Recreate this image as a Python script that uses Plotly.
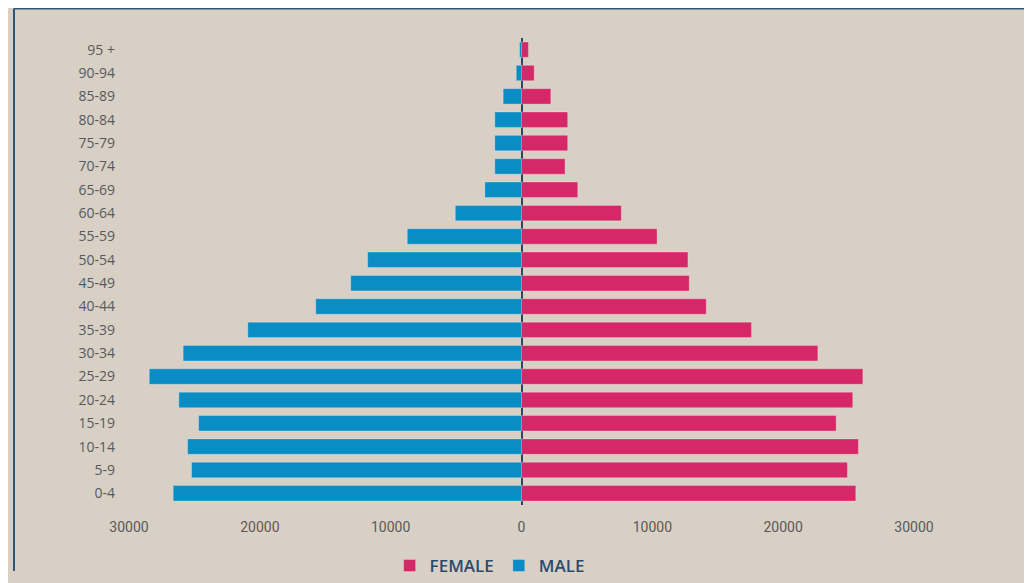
# population pyramid by age group, male on the left, female on the right

import plotly.graph_objects as go

age_groups = ["0-4", "5-9", "10-14", "15-19", "20-24", "25-29", "30-34", "35-39",
              "40-44", "45-49", "50-54", "55-59", "60-64", "65-69", "70-74",
              "75-79", "80-84", "85-89", "90-94", "95 +"]

male = [26620, 25220, 25520, 24680, 26190, 28450, 25860, 20920, 15730, 13050,
        11760, 8730, 5060, 2800, 2040, 2040, 2040, 1400, 400, 150]
female = [25550, 24910, 25750, 24050, 25320, 26090, 22650, 17580, 14120, 12820,
          12720, 10360, 7630, 4300, 3330, 3530, 3530, 2240, 970, 530]

tick_vals = [-30000, -20000, -10000, 0, 10000, 20000, 30000]
tick_text = ["30000", "20000", "10000", "0", "10000", "20000", "30000"]

bg = "#d8d0c5"
frame = "#2f5677"

fig = go.Figure()

fig.add_trace(go.Bar(
    y=age_groups,
    x=female,
    orientation="h",
    name="FEMALE",
    marker=dict(color="#d62868", line=dict(color="rgba(255,255,255,0.25)", width=1)),
))
fig.add_trace(go.Bar(
    y=age_groups,
    x=[-v for v in male],
    orientation="h",
    name="MALE",
    marker=dict(color="#0a8dc5", line=dict(color="rgba(255,255,255,0.25)", width=1)),
))

# frame lines at top and left of the card
fig.add_shape(type="line", xref="paper", yref="paper",
              x0=-0.1465, x1=1.16, y0=1.063, y1=1.063,
              line=dict(color=frame, width=2))
fig.add_shape(type="line", xref="paper", yref="paper",
              x0=-0.1465, x1=-0.1465, y0=1.063, y1=-0.1413,
              line=dict(color=frame, width=2))

fig.update_layout(
    width=1024,
    height=575,
    paper_bgcolor=bg,
    plot_bgcolor=bg,
    barmode="relative",
    bargap=0.34,
    margin=dict(l=121, r=118, t=30, b=78, autoexpand=False),
    font=dict(family="Open Sans, DejaVu Sans, sans-serif", color="#595959", size=14),
    showlegend=True,
    legend=dict(
        orientation="h",
        x=0.332, xanchor="left",
        y=-0.1306, yanchor="middle",
        font=dict(size=17, color="#2b4b6c", weight=600,
                  family="Open Sans, DejaVu Sans, sans-serif"),
        itemwidth=30,
        bgcolor="rgba(0,0,0,0)",
    ),
    xaxis=dict(
        range=[-30000, 30000],
        tickvals=tick_vals,
        ticktext=tick_text,
        showgrid=False,
        zeroline=True,
        zerolinecolor="#2e4760",
        zerolinewidth=2,
        ticklabelstandoff=12,
        tickfont=dict(size=14, family="Roboto, sans-serif", color="#595959"),
    ),
    yaxis=dict(
        showgrid=False,
        ticklabelstandoff=13,
        tickfont=dict(size=14, color="#595959"),
    ),
)

fig.write_html("out.html")
